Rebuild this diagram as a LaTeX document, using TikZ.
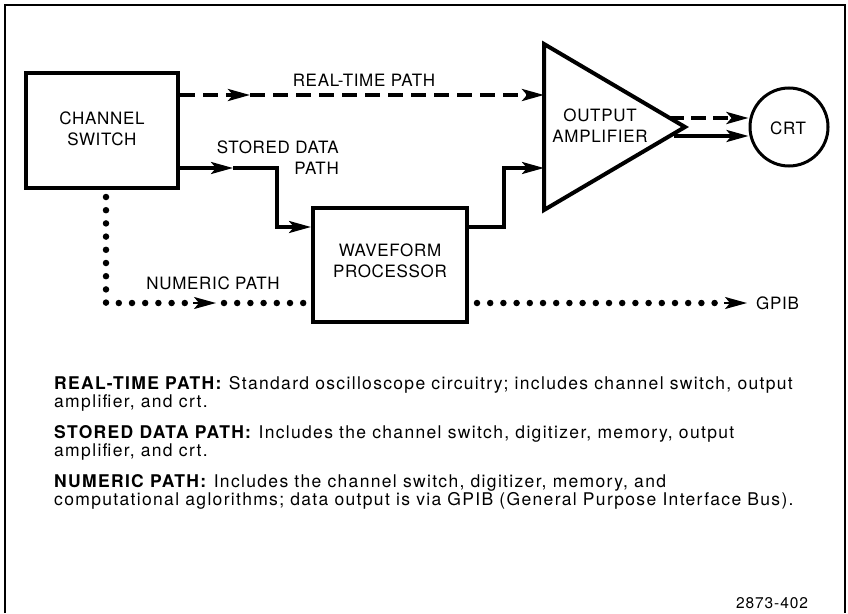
\documentclass[tikz,border=0pt]{standalone}
\usepackage{fontspec}
\setmainfont{TeX Gyre Heros}
\usetikzlibrary{arrows.meta,calc}
\begin{document}
\begin{tikzpicture}[x=1pt,y=-1pt,
  lbl/.style={font=\fontsize{17}{21}\selectfont\addfontfeature{LetterSpace=4}, align=center, inner sep=0pt},
  leg/.style={font=\fontsize{17.5}{18}\selectfont\addfontfeature{LetterSpace=7.6}, anchor=base west, inner sep=0pt},
  blk/.style={draw, line width=4pt, inner sep=0pt},
  con/.style={line width=3.2pt},
  dsh/.style={line width=3.6pt, dash pattern=on 15pt off 8pt},
  dots/.style={line width=6.5pt, line cap=round, dash pattern=on 0pt off 13.2pt},
  tipa/.tip={Stealth[length=22pt,width=12pt,inset=5pt]}
]
\useasboundingbox (0,0) rectangle (848,613);
% frame
\draw[line width=2pt] (5,613) -- (5,5) -- (845,5) -- (845,613);

% blocks
\node[blk, minimum width=152pt, minimum height=115pt] (cs) at (102,130.5) {};
\node[lbl] (cst) at (102,128.5) {CHANNEL\\SWITCH};
\node[blk, minimum width=154pt, minimum height=114pt] (wp) at (390,265) {};
\node[lbl] (wpt) at (390,261) {WAVEFORM\\PROCESSOR};

% amplifier triangle
\coordinate (tl) at (544,44);
\coordinate (bl) at (544,210);
\coordinate (tip) at (685,127);
\draw[line width=4pt] (tl) -- (tip) -- (bl) -- cycle;
\node[lbl] (amp) at (600,125.5) {OUTPUT\\AMPLIFIER};

% CRT
\node[draw, circle, line width=3pt, minimum size=78pt, inner sep=0pt] (crt) at (789,127) {};
\node[lbl] (crtt) at (788,128) {CRT};

% real-time path
\coordinate (rt) at (250,95);
\draw[dsh, -tipa] (cs.east |- rt) -- (rt);
\draw[dsh, -tipa] (rt) -- (tl |- rt);
\node[lbl] (rtl) at (364,80) {REAL-TIME PATH};

% stored data path
\coordinate (sd) at (233,168);
\coordinate (sd1) at (277,168);
\coordinate (sd2) at (277,227);
\draw[con, -tipa] (cs.east |- sd) -- (sd);
\draw[con, -tipa] (sd) -- (sd1) -- (sd2) -- (wp.west |- sd2);
\node[lbl, align=right, anchor=east] (sdl) at (339,158) {STORED DATA\\PATH};
\coordinate (w1) at (504,168);
\draw[con, -tipa] (wp.east |- sd2) -- (w1 |- sd2) -- (w1) -- (tl |- w1);

% outputs to crt
\coordinate (o1) at (669,118);
\coordinate (o2) at (674,136);
\draw[dsh, dash pattern=on 15pt off 7pt, -tipa] (o1) -- (o1 -| crt.west);
\draw[con, -tipa] (o2) -- (o2 -| crt.west);

% numeric path
\coordinate (n0) at (106,197);
\coordinate (n1) at (106,303);
\coordinate (n2) at (193,303);
\coordinate (n3) at (216,303);
\coordinate (n4) at (224,303);
\draw[dots] (n0) -- (n1) -- (n2);
\draw[line width=2pt, -tipa] (n2) -- (n3);
\draw[dots] (n4) -- (wp.west |- n4);
\node[lbl] (npl) at (213,283) {NUMERIC PATH};
\coordinate (g0) at (477,303);
\coordinate (g1) at (720,303);
\coordinate (g2) at (724,303);
\coordinate (g3) at (747,303);
\draw[dots] (g0) -- (g1);
\draw[line width=2pt, -tipa] (g2) -- (g3);
\node[lbl, anchor=west] (gpib) at (756,303) {GPIB};

% legend
\node[leg] (l1a) at (54,389) {\textbf{REAL-TIME PATH:} Standard oscilloscope circuitry; includes channel switch, output};
\node[leg] (l1b) at (54,407) {amplifier, and crt.};
\node[leg] (l2a) at (54,438) {\textbf{STORED DATA PATH:} Includes the channel switch, digitizer, memory, output};
\node[leg] (l2b) at (54,456) {amplifier, and crt.};
\node[leg] (l3a) at (54,487) {\textbf{NUMERIC PATH:} Includes the channel switch, digitizer, memory, and};
\node[leg] (l3b) at (54,505) {computational aglorithms; data output is via GPIB (General Purpose Interface Bus).};
\node[anchor=base, inner sep=0pt, font=\fontsize{15.5}{18}\selectfont\addfontfeature{LetterSpace=6}] (num) at (772,608) {2873-402};
\end{tikzpicture}
\end{document}
